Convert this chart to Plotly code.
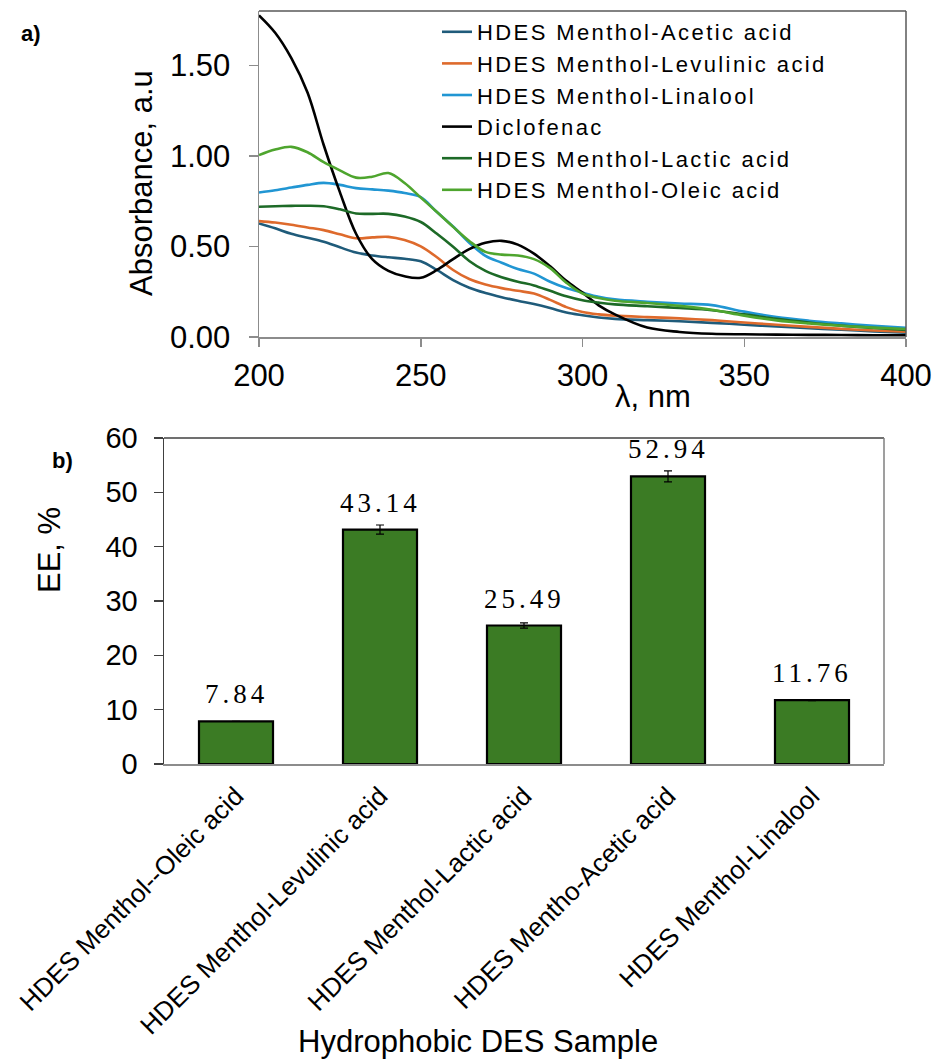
import plotly.graph_objects as go

# ---------------- data: panel a (UV-Vis spectra) ----------------
wavelength = [200, 205, 210, 215, 220, 225, 230, 235, 240, 245, 250, 255, 260, 265,
              270, 275, 280, 285, 290, 295, 300, 305, 310, 320, 330, 340, 350, 360,
              370, 380, 390, 400]

acetic = [0.627, 0.600, 0.570, 0.548, 0.526, 0.495, 0.466, 0.450, 0.440, 0.432, 0.418,
          0.370, 0.314, 0.272, 0.243, 0.220, 0.200, 0.182, 0.160, 0.135, 0.120, 0.108,
          0.100, 0.093, 0.087, 0.078, 0.068, 0.058, 0.048, 0.040, 0.031, 0.024]
levulinic = [0.640, 0.632, 0.620, 0.605, 0.590, 0.567, 0.545, 0.550, 0.553, 0.535, 0.500,
             0.440, 0.370, 0.320, 0.290, 0.270, 0.255, 0.240, 0.205, 0.165, 0.138, 0.125,
             0.118, 0.110, 0.103, 0.093, 0.080, 0.068, 0.056, 0.045, 0.036, 0.029]
linalool = [0.798, 0.810, 0.825, 0.840, 0.851, 0.840, 0.822, 0.815, 0.808, 0.795, 0.772,
            0.690, 0.610, 0.520, 0.448, 0.410, 0.375, 0.350, 0.305, 0.270, 0.245, 0.222,
            0.208, 0.195, 0.185, 0.176, 0.140, 0.110, 0.090, 0.075, 0.062, 0.051]
diclofenac = [1.776, 1.680, 1.540, 1.350, 1.060, 0.800, 0.570, 0.430, 0.365, 0.335, 0.327,
              0.370, 0.430, 0.485, 0.520, 0.531, 0.510, 0.460, 0.390, 0.310, 0.245, 0.175,
              0.125, 0.052, 0.028, 0.018, 0.015, 0.013, 0.012, 0.011, 0.010, 0.010]
lactic = [0.719, 0.722, 0.724, 0.725, 0.722, 0.705, 0.682, 0.680, 0.680, 0.665, 0.635,
          0.570, 0.498, 0.420, 0.365, 0.330, 0.305, 0.285, 0.255, 0.225, 0.203, 0.190,
          0.180, 0.170, 0.160, 0.148, 0.125, 0.100, 0.080, 0.063, 0.050, 0.039]
oleic = [1.004, 1.035, 1.050, 1.020, 0.965, 0.920, 0.880, 0.885, 0.905, 0.850, 0.770,
         0.690, 0.608, 0.530, 0.470, 0.455, 0.450, 0.430, 0.380, 0.300, 0.240, 0.215,
         0.200, 0.188, 0.172, 0.150, 0.118, 0.092, 0.075, 0.062, 0.052, 0.044]

series_names = ["HDES Menthol-Acetic acid", "HDES Menthol-Levulinic acid",
                "HDES Menthol-Linalool", "Diclofenac",
                "HDES Menthol-Lactic acid", "HDES Menthol-Oleic acid"]
series_values = [acetic, levulinic, linalool, diclofenac, lactic, oleic]
series_colors = ["#1F5B7A", "#DE6A2C", "#2196D3", "#000000", "#1D6A27", "#4EA52E"]

# ---------------- data: panel b (EE bars) ----------------
des_samples = ["HDES Menthol--Oleic acid", "HDES Menthol-Levulinic acid",
               "HDES Menthol-Lactic acid", "HDES Mentho-Acetic acid",
               "HDES Menthol-Linalool"]
ee_values = [7.84, 43.14, 25.49, 52.94, 11.76]
ee_errors = [0.0, 0.85, 0.5, 1.0, 0.1]

W, H = 934, 1060
SANS = "Liberation Sans, Arial, sans-serif"
SERIF = "Liberation Serif, Times New Roman, serif"

def px(xp):
    return xp / W

def py(yp):
    return 1 - yp / H

fig = go.Figure()

for name, vals, col in zip(series_names, series_values, series_colors):
    fig.add_trace(go.Scatter(x=wavelength, y=vals,
                             name='<span style="letter-spacing:2.4px">%s</span>' % name,
                             mode="lines",
                             line=dict(color=col, width=2.6, shape="spline", smoothing=1.0),
                             xaxis="x", yaxis="y"))

fig.add_trace(go.Bar(x=des_samples, y=ee_values, xaxis="x2", yaxis="y2",
                     marker=dict(color="#3B7B24", line=dict(color="#000000", width=2.2)),
                     error_y=dict(type="data", array=ee_errors, visible=True,
                                  color="#000000", thickness=1.2, width=4),
                     showlegend=False))

annotations = []
for cat, v in zip(des_samples, ee_values):
    annotations.append(dict(x=cat, y=v, xref="x2", yref="y2", xanchor="center",
                            yanchor="bottom", yshift=10, showarrow=False,
                            text='<span style="letter-spacing:4px">%.2f</span>' % v,
                            font=dict(family=SERIF, size=27, color="#000000")))

def label(x, y, text, size, angle=0):
    return dict(x=px(x), y=py(y), xref="paper", yref="paper", text=text,
                xanchor="center", yanchor="middle", textangle=angle, showarrow=False,
                font=dict(family=SANS, size=size, color="#000000"))

annotations += [
    label(141, 183, "Absorbance, a.u", 31, -90),
    label(653, 397, "λ, nm", 31),
    label(49, 550, "EE, %", 31, -90),
    label(478, 1041, "Hydrophobic DES Sample", 31),
    label(31, 34, "<b>a)</b>", 22),
    label(62, 461, "<b>b)</b>", 22),
]

shapes = [
    dict(type="line", xref="x domain", yref="y domain", x0=0, x1=1, y0=1, y1=1,
         line=dict(color="#595959", width=1.5)),
    dict(type="line", xref="x domain", yref="y domain", x0=1, x1=1, y0=0, y1=1,
         line=dict(color="#595959", width=1.5)),
    dict(type="line", xref="x2 domain", yref="y2 domain", x0=0, x1=1, y0=1, y1=1,
         line=dict(color="#404040", width=1.5)),
    dict(type="line", xref="x2 domain", yref="y2 domain", x0=1, x1=1, y0=0, y1=1,
         line=dict(color="#7F7F7F", width=1.5)),
]

fig.update_layout(
    template="none",
    width=W, height=H,
    margin=dict(l=0, r=0, t=0, b=0, autoexpand=False),
    paper_bgcolor="white", plot_bgcolor="white",
    font=dict(family=SANS, color="#000000"),
    bargap=0.486,
    showlegend=True,
    hovermode=False,
    legend=dict(x=px(437), y=py(11), xanchor="left", yanchor="top",
                bgcolor="rgba(0,0,0,0)", font=dict(family=SANS, size=22, color="#000000"),
                tracegroupgap=0, itemwidth=30),
    xaxis=dict(domain=[px(259), px(906)], anchor="y", range=[200, 400], dtick=50,
               tick0=200, showgrid=False, zeroline=False, showline=True, automargin=False,
               linecolor="#8C8C8C", linewidth=1.5, ticks="outside", ticklen=8,
               tickcolor="#8C8C8C", tickwidth=1.5,
               tickfont=dict(family=SANS, size=31, color="#000000"),
               ticklabelstandoff=2),
    yaxis=dict(domain=[py(337), py(11)], anchor="x", range=[0, 1.8], dtick=0.5,
               tick0=0, tickformat=".2f", showgrid=False, zeroline=False, showline=True,
               automargin=False,
               linecolor="#8C8C8C", linewidth=1.5, ticks="outside", ticklen=9,
               tickcolor="#8C8C8C", tickwidth=1.5,
               tickfont=dict(family=SANS, size=31, color="#000000"),
               ticklabelstandoff=12),
    xaxis2=dict(domain=[px(164), px(884)], anchor="y2", type="category",
                showgrid=False, zeroline=False, showline=True, automargin=False,
                linecolor="#8C8C8C", linewidth=1.5, ticks="",
                tickangle=-45, tickfont=dict(family=SANS, size=26, color="#000000"),
                ticklabelstandoff=5),
    yaxis2=dict(domain=[py(764), py(438)], anchor="x2", range=[0, 60], dtick=10,
                showgrid=False, zeroline=False, showline=True, automargin=False,
                linecolor="#404040", linewidth=1.5, ticks="outside", ticklen=9,
                tickcolor="#404040", tickwidth=1.5,
                tickfont=dict(family=SANS, size=29, color="#000000"),
                ticklabelstandoff=10),
    annotations=annotations,
    shapes=shapes,
)

# remove the page's default 8px body margin so the figure fills the window exactly
fig.write_html("out.html",
               config={"displayModeBar": False, "staticPlot": True},
               post_script="document.body.style.margin='0';document.body.style.overflow='hidden';")
